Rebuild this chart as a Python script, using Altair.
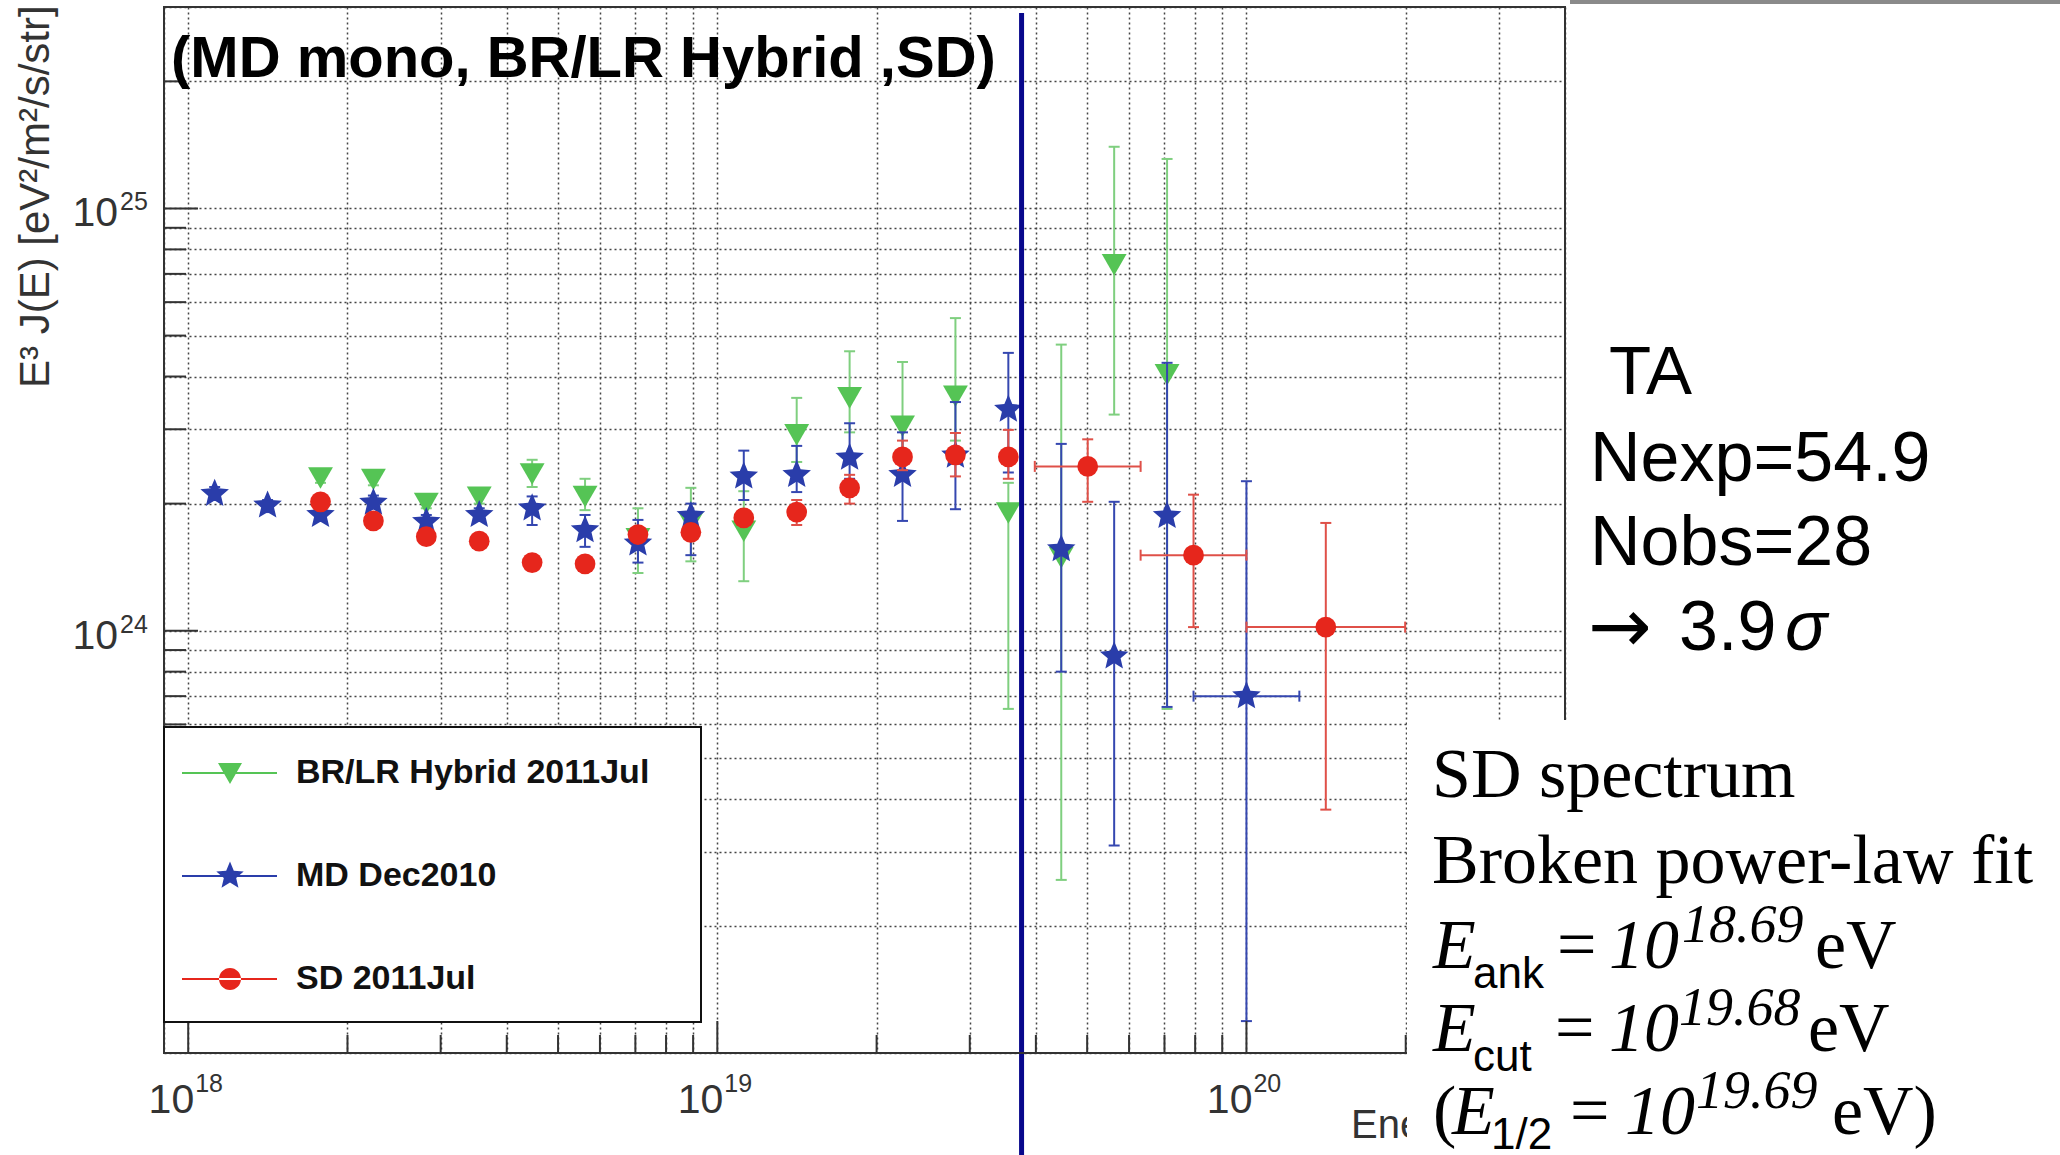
import altair as alt
import pandas as pd

# ---------------- data ----------------
series_names = ["BR/LR Hybrid 2011Jul", "MD Dec2010", "SD 2011Jul"]

# E^3 J(E) values in units of 1e24 eV^2/m^2/s/sr, energies as log10(E/eV)
hy_logE = [18.25, 18.35, 18.45, 18.55, 18.65, 18.75, 18.85, 18.95, 19.05,
           19.15, 19.25, 19.35, 19.45, 19.55, 19.65, 19.75, 19.85]
hy_val = [2.30, 2.28, 2.00, 2.07, 2.35, 2.08, 1.65, 1.80, 1.72,
          2.91, 3.56, 3.05, 3.59, 1.90, 1.49, 7.36, 4.04]
hy_lo = [2.24, 2.21, 1.95, 2.00, 2.19, 1.93, 1.37, 1.46, 1.31,
         2.51, 2.95, 2.63, 2.82, 0.653, 0.257, 3.25, 0.653]
hy_hi = [2.37, 2.34, 2.04, 2.15, 2.54, 2.29, 1.95, 2.18, 2.14,
         3.56, 4.59, 4.33, 5.50, 2.24, 4.76, 14.0, 13.1]

md_logE = [18.05, 18.15, 18.25, 18.35, 18.45, 18.55, 18.65, 18.75, 18.85, 18.95,
           19.05, 19.15, 19.25, 19.35, 19.45, 19.55, 19.65, 19.75, 19.85, 20.00]
md_val = [2.11, 1.98, 1.88, 2.01, 1.81, 1.88, 1.95, 1.73, 1.61, 1.87,
          2.32, 2.34, 2.57, 2.34, 2.60, 3.34, 1.56, 0.87, 1.87, 0.70]
md_lo = [2.04, 1.91, 1.82, 1.95, 1.74, 1.82, 1.78, 1.58, 1.45, 1.51,
         2.04, 2.13, 2.29, 1.82, 1.94, 2.37, 0.80, 0.31, 0.66, 0.119]
md_hi = [2.19, 2.04, 1.95, 2.09, 1.88, 1.95, 2.08, 1.88, 1.83, 2.00,
         2.67, 2.74, 3.10, 2.95, 3.48, 4.55, 2.77, 2.02, 4.31, 2.26]
md_xlo = [None] * 19 + [19.90]
md_xhi = [None] * 19 + [20.10]

sd_logE = [18.25, 18.35, 18.45, 18.55, 18.65, 18.75, 18.85, 18.95, 19.05,
           19.15, 19.25, 19.35, 19.45, 19.55, 19.70, 19.90, 20.15]
sd_val = [2.02, 1.82, 1.67, 1.63, 1.45, 1.44, 1.69, 1.71, 1.85,
          1.91, 2.18, 2.58, 2.61, 2.58, 2.45, 1.51, 1.02]
sd_lo = [1.95, 1.76, 1.61, 1.57, 1.40, 1.39, 1.63, 1.65, 1.78,
         1.78, 2.00, 2.40, 2.32, 2.29, 2.02, 1.02, 0.377]
sd_hi = [2.09, 1.88, 1.73, 1.69, 1.50, 1.49, 1.75, 1.77, 1.93,
         2.04, 2.34, 2.82, 2.94, 2.99, 2.84, 2.10, 1.80]
sd_xlo = [None] * 14 + [19.60, 19.80, 20.00]
sd_xhi = [None] * 14 + [19.80, 20.00, 20.30]

cut_logE = 19.575  # vertical marker line

# axis grid / tick positions
x_grid = [9e17] + [k * 1e18 for k in range(1, 10)] + [k * 1e19 for k in range(1, 10)] + [k * 1e20 for k in range(1, 5)]
y_grid = [k * 0.1 for k in range(1, 10)] + [float(k) for k in range(1, 10)] + [10.0, 20.0, 30.0]
x_major = [1e18, 1e19, 1e20]
x_minor = [v for v in x_grid if v not in x_major]
y_major = [1.0, 10.0]
y_minor = [v for v in y_grid if v not in y_major and v not in (0.1, 30.0)]
x_label_exp = ["18", "19", "20"]
y_label_exp = ["24", "25"]

# ---------------- layout / style ----------------
W, H = 1401, 1046
PL, PT = 164, 7
C_GREEN, C_GREEN_E = "#55c455", "#7fcf7f"
C_BLUE, C_BLUE_E = "#2a3daa", "#3547b0"
C_RED, C_RED_E = "#e6261c", "#df5048"
SANS = "Liberation Sans"
SERIF = "Liberation Serif"

xscale = alt.Scale(type="log", domain=[9e17, 4e20], nice=False)
yscale = alt.Scale(type="log", domain=[0.1, 30], nice=False)
grid_kw = dict(grid=True, labels=False, ticks=False, domain=False, title=None,
               gridColor="#444", gridDash=[2, 3], gridWidth=1.5, gridOpacity=1)
xaxis = alt.Axis(values=x_grid, **grid_kw)
yaxis = alt.Axis(values=y_grid, **grid_kw)


def X(f="E"):
    return alt.X(f"{f}:Q", scale=xscale, axis=xaxis)


def Y(f="v"):
    return alt.Y(f"{f}:Q", scale=yscale, axis=yaxis)


def frame(logE, val, lo, hi, xlo=None, xhi=None):
    d = pd.DataFrame({"E": [10 ** v for v in logE], "v": val, "lo": lo, "hi": hi})
    if xlo is not None:
        d["xlo"] = [10 ** v if v is not None else None for v in xlo]
        d["xhi"] = [10 ** v if v is not None else None for v in xhi]
    return d


STAR = ("M0,-1 L0.265,-0.364 L0.951,-0.309 L0.428,0.139 L0.588,0.809 L0,0.45 "
        "L-0.588,0.809 L-0.428,0.139 L-0.951,-0.309 L-0.265,-0.364 Z")


def series_layers(d, cm, ce, shape, size):
    layers = []
    layers.append(alt.Chart(d).mark_rule(color=ce, strokeWidth=2).encode(x=X(), y=Y("lo"), y2="hi"))
    layers.append(alt.Chart(d).transform_fold(["lo", "hi"], as_=["k", "cap"])
                  .mark_point(shape="stroke", size=121, strokeWidth=2, color=ce, filled=False, opacity=1)
                  .encode(x=X(), y=Y("cap")))
    if "xlo" in d.columns:
        dx = d.dropna(subset=["xlo"])
        layers.append(alt.Chart(dx).mark_rule(color=ce, strokeWidth=2).encode(x=X("xlo"), x2="xhi", y=Y()))
        layers.append(alt.Chart(dx).transform_fold(["xlo", "xhi"], as_=["k", "cx"])
                      .mark_point(shape="M0,-1L0,1", size=121, strokeWidth=2, color=ce, filled=False, opacity=1)
                      .encode(x=X("cx"), y=Y()))
    layers.append(alt.Chart(d).mark_point(shape=shape, size=size, filled=True, opacity=1, color=cm)
                  .encode(x=X(), y=Y()))
    return layers


hy = frame(hy_logE, hy_val, hy_lo, hy_hi)
md = frame(md_logE, md_val, md_lo, md_hi, md_xlo, md_xhi)
sd = frame(sd_logE, sd_val, sd_lo, sd_hi, sd_xlo, sd_xhi)

one = pd.DataFrame({"a": [0]})
layers = []
layers += series_layers(hy, C_GREEN, C_GREEN_E, "triangle-down", 620)
layers += series_layers(md, C_BLUE, C_BLUE_E, STAR, 900)
layers += series_layers(sd, C_RED, C_RED_E, "circle", 430)

# vertical cut line
layers.append(alt.Chart(pd.DataFrame({"E": [10 ** cut_logE]})).mark_rule(color="#08088c", strokeWidth=5)
              .encode(x=X(), y=alt.value(6), y2=alt.value(1148)))

# frame
layers.append(alt.Chart(one).mark_rect(fillOpacity=0, stroke="#333", strokeWidth=2)
              .encode(x=alt.value(0), x2=alt.value(W), y=alt.value(0), y2=alt.value(H)))

# inward ticks
layers.append(alt.Chart(pd.DataFrame({"t": y_minor})).mark_rule(color="#333", strokeWidth=2)
              .encode(x=alt.value(0), x2=alt.value(22), y=Y("t")))
layers.append(alt.Chart(pd.DataFrame({"t": y_major})).mark_rule(color="#333", strokeWidth=2)
              .encode(x=alt.value(0), x2=alt.value(34), y=Y("t")))
layers.append(alt.Chart(pd.DataFrame({"t": x_minor})).mark_rule(color="#333", strokeWidth=2)
              .encode(x=X("t"), y=alt.value(H), y2=alt.value(H - 18)))
layers.append(alt.Chart(pd.DataFrame({"t": x_major})).mark_rule(color="#333", strokeWidth=2)
              .encode(x=X("t"), y=alt.value(H), y2=alt.value(H - 32)))

# tick labels
xl = pd.DataFrame({"t": x_major, "exp": x_label_exp, "base": ["10"] * 3})
layers.append(alt.Chart(xl).mark_text(align="right", baseline="alphabetic", dx=6, font=SANS, fontSize=41, color="#333")
              .encode(x=X("t"), y=alt.value(1106), text="base:N"))
layers.append(alt.Chart(xl).mark_text(align="left", baseline="alphabetic", dx=7, font=SANS, fontSize=25, color="#333")
              .encode(x=X("t"), y=alt.value(1085), text="exp:N"))
yl = pd.DataFrame({"t": y_major, "exp": y_label_exp, "base": ["10"] * 2})
layers.append(alt.Chart(yl).mark_text(align="right", baseline="alphabetic", dy=18, font=SANS, fontSize=41, color="#333")
              .encode(x=alt.value(118 - PL), y=Y("t"), text="base:N"))
layers.append(alt.Chart(yl).mark_text(align="left", baseline="alphabetic", dy=2, font=SANS, fontSize=25, color="#333")
              .encode(x=alt.value(120 - PL), y=Y("t"), text="exp:N"))


def txt(s, xf, yf, size, font=SANS, style="normal", weight="normal", color="#000", angle=0, baseline="alphabetic"):
    return (alt.Chart(one).mark_text(align="left", baseline=baseline, font=font, fontSize=size,
                                     fontStyle=style, fontWeight=weight, color=color, angle=angle)
            .encode(x=alt.value(xf - PL), y=alt.value(yf - PT), text=alt.value(s)))


# axis titles
layers.append(txt("E³ J(E) [eV²/m²/s/str]", 36, 388, 42, color="#333", angle=270, baseline="middle"))
layers.append(txt("Energy [eV]", 1351, 1138, 40, color="#333"))

# header text
layers.append(txt("(MD mono, BR/LR Hybrid ,SD)", 171, 77, 58, weight="bold"))

# legend (library legend, driven by a hidden layer)
LINE = "M-1.4,-0.05 L3.35,-0.05 L3.35,0.05 L-1.4,0.05 Z "
LEG_G = LINE + "M0.4,-0.5 L1.6,-0.5 L1.0,0.55 Z"
LEG_B = LINE + ("M1,-0.72 L1.19,-0.262 L1.685,-0.222 L1.308,0.1 L1.423,0.582 L1,0.324 "
                "L0.577,0.582 L0.692,0.1 L0.315,-0.222 L0.81,-0.262 Z")
LEG_R = LINE + "M0.45,0 A0.55,0.55 0 1,0 1.55,0 A0.55,0.55 0 1,0 0.45,0 Z"
leg_kw = dict(title=None, orient="none", legendX=0, legendY=720, padding=26, rowPadding=66,
              labelOffset=66, symbolSize=1600, symbolStrokeWidth=0, symbolOpacity=1,
              labelFont=SANS, labelFontWeight="bold", labelFontSize=34, labelColor="#111",
              labelLimit=800, fillColor="white", strokeColor="#111",
              labelExpr="datum.label + '\u2800'")
layers.append(alt.Chart(pd.DataFrame({"series": series_names})).mark_point(filled=True, opacity=1, size=1600, clip=True)
              .encode(x=alt.value(-3000), y=alt.value(-3000),
                      color=alt.Color("series:N", scale=alt.Scale(domain=series_names, range=[C_GREEN, C_BLUE, C_RED]),
                                      legend=alt.Legend(**leg_kw)),
                      shape=alt.Shape("series:N", scale=alt.Scale(domain=series_names, range=[LEG_G, LEG_B, LEG_R]),
                                      legend=alt.Legend(**leg_kw))))

# white annotation box (bottom right) and decoration bar
layers.append(alt.Chart(one).mark_rect(fill="white")
              .encode(x=alt.value(1407 - PL), x2=alt.value(2060 - PL), y=alt.value(720 - PT), y2=alt.value(1155 - PT)))
layers.append(alt.Chart(one).mark_rect(fill="#8a8a8a")
              .encode(x=alt.value(1570 - PL), x2=alt.value(2060 - PL), y=alt.value(0 - PT), y2=alt.value(4 - PT)))

# right-hand texts
layers.append(txt("TA", 1609, 394, 69))
layers.append(txt("Nexp=54.9", 1590, 481, 70))
layers.append(txt("Nobs=28", 1590, 565, 70))
layers.append(txt("→", 1588, 652, 76, font="DejaVu Sans"))
layers.append(txt("3.9", 1679, 650, 70))
layers.append(txt("σ", 1785, 650, 70, style="italic"))

layers.append(txt("SD spectrum", 1432, 797, 70, font=SERIF))
layers.append(txt("Broken power-law fit", 1432, 883, 70, font=SERIF))
eq_rows = [
    # text, x, y, size, font, style
    [("E", 1433, 968, 70, SERIF, "italic"), ("ank", 1473, 988, 44, SANS, "normal"),
     ("=", 1557, 968, 70, SERIF, "normal"), ("10", 1609, 968, 70, SERIF, "italic"),
     ("18.69", 1682, 942, 54, SERIF, "italic"), ("eV", 1815, 968, 70, SERIF, "normal")],
    [("E", 1433, 1051, 70, SERIF, "italic"), ("cut", 1473, 1071, 44, SANS, "normal"),
     ("=", 1555, 1051, 70, SERIF, "normal"), ("10", 1609, 1051, 70, SERIF, "italic"),
     ("19.68", 1679, 1025, 54, SERIF, "italic"), ("eV", 1808, 1051, 70, SERIF, "normal")],
    [("(", 1433, 1134, 70, SERIF, "normal"), ("E", 1452, 1134, 70, SERIF, "italic"),
     ("1/2", 1491, 1149, 44, SANS, "normal"), ("=", 1570, 1134, 70, SERIF, "normal"),
     ("10", 1625, 1134, 70, SERIF, "italic"), ("19.69", 1696, 1108, 54, SERIF, "italic"),
     ("eV)", 1832, 1134, 70, SERIF, "normal")],
]
for row in eq_rows:
    for s, xf, yf, size, font, style in row:
        layers.append(txt(s, xf, yf, size, font=font, style=style))

chart = alt.layer(*layers).properties(
    width=W, height=H,
    autosize=alt.AutoSizeParams(type="none"),
    padding={"left": PL, "top": PT, "right": 2060 - PL - W, "bottom": 1155 - PT - H},
    background="white",
).configure_view(strokeWidth=0).configure_legend(strokeWidth=2)

chart.save("out.html", embed_options={"renderer": "svg", "actions": False})
